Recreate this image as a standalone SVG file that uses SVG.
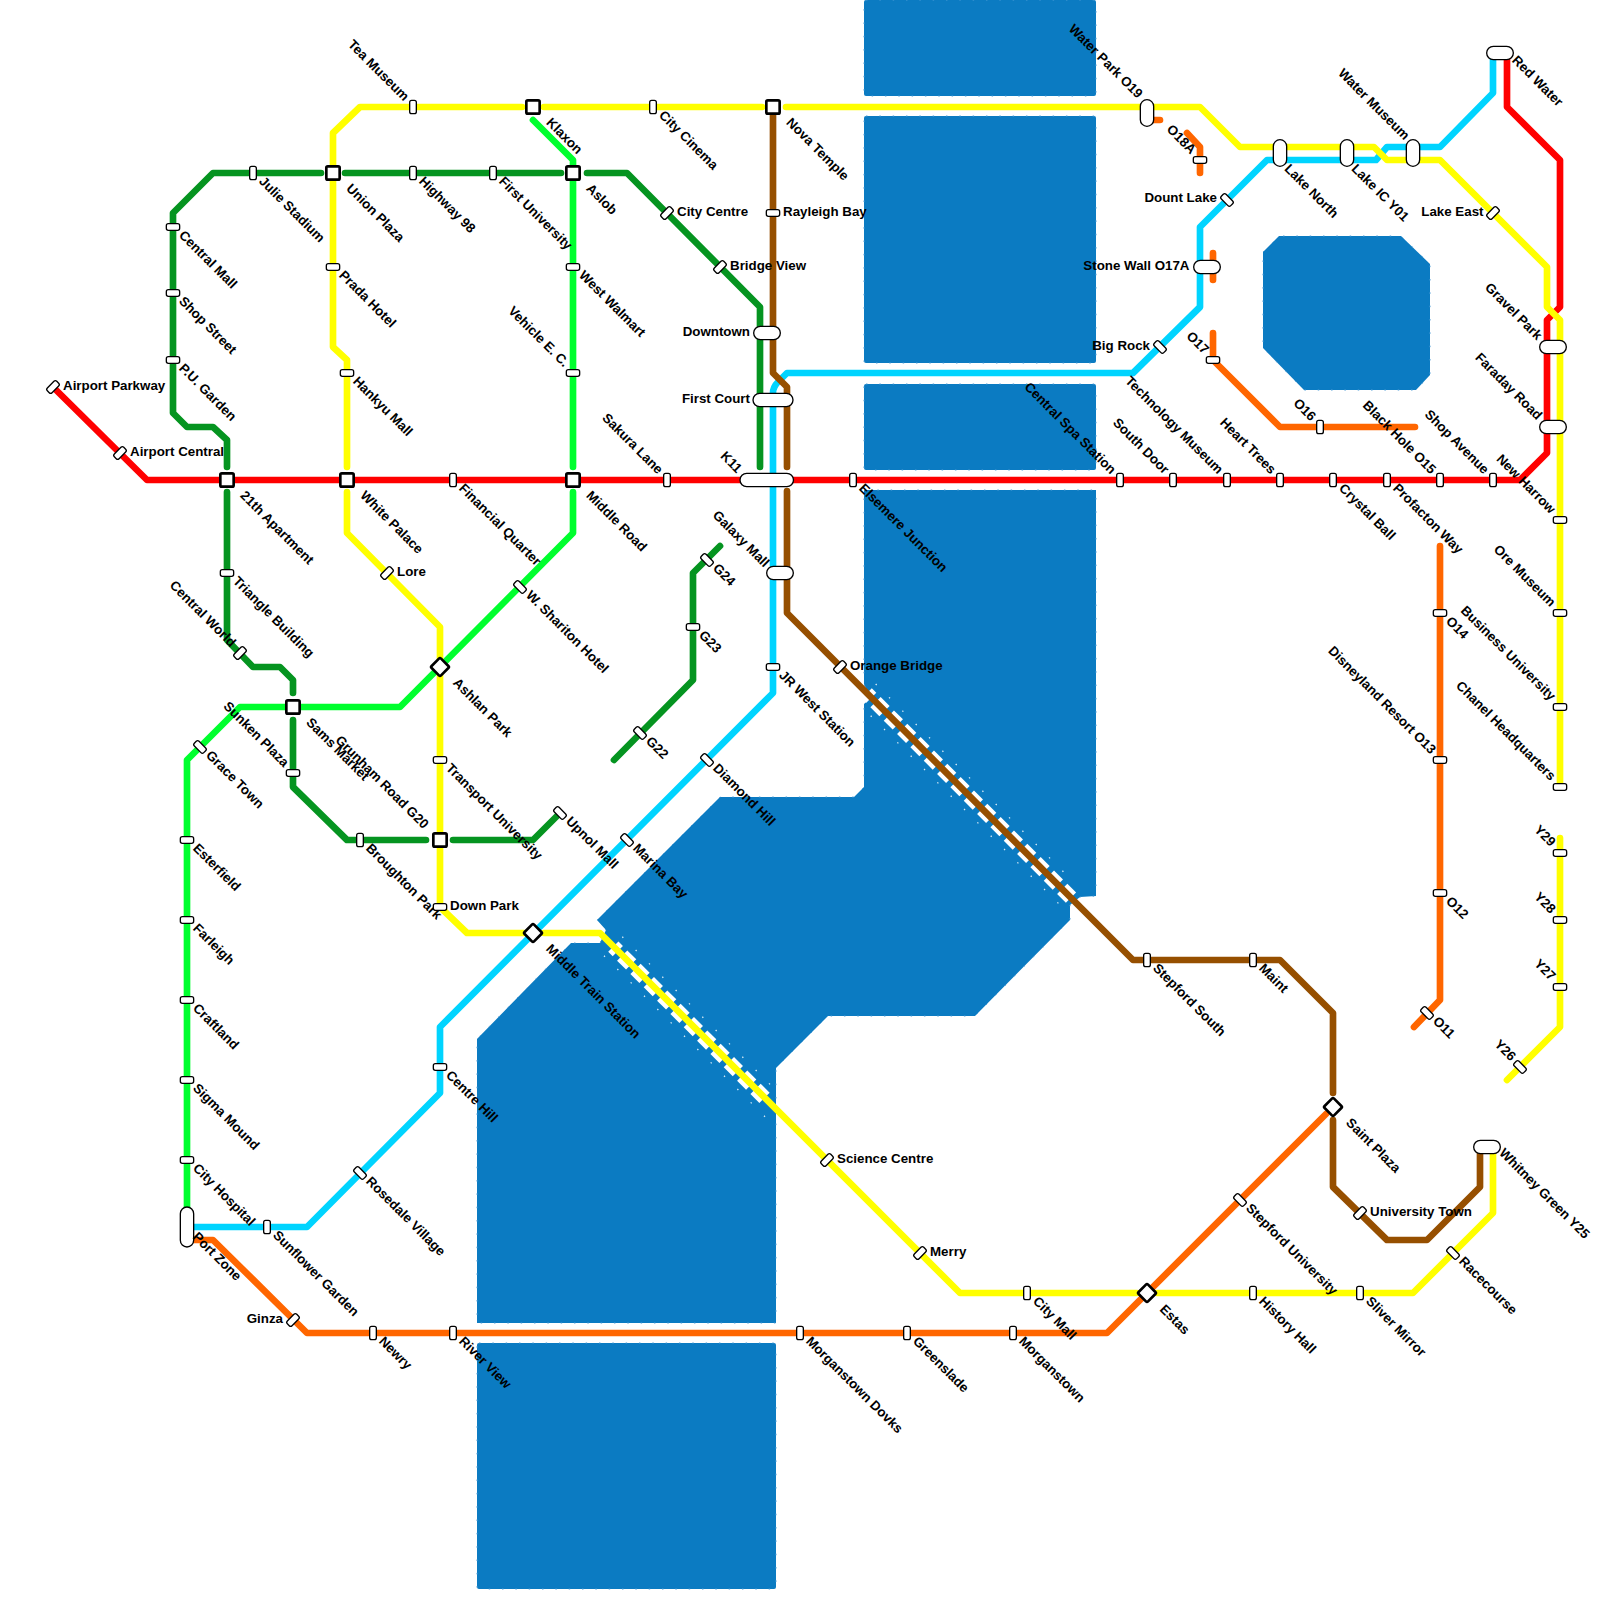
<svg xmlns="http://www.w3.org/2000/svg" width="1600" height="1600" viewBox="0 0 1600 1600">
<style>
text{font-family:"Liberation Sans",Arial,sans-serif;font-size:13.33px;font-weight:bold;fill:#000}
.e{text-anchor:end}
.d{transform:rotate(45deg)}
.st{fill:#fff;stroke:#000;stroke-width:1.33}
.sq{fill:#fff;stroke:#000;stroke-width:2.67}
.w{fill:#0b7bc2;stroke:#4f9dd6;stroke-width:1;stroke-dasharray:1.5 11.83}
.gap{fill:none;stroke:#fff;stroke-width:14.5;stroke-dasharray:12.7 6.16;stroke-dashoffset:6.35}
.dot{fill:none;stroke:#fff;stroke-width:1.3;stroke-dasharray:1.4 17.46;opacity:.85}
#connectors path{fill:none;stroke-width:6.67;stroke-linecap:round;stroke-linejoin:round}
.red{stroke:#ff0000}.yel{stroke:#ffff00}.cya{stroke:#00d4ff}.dgr{stroke:#059420}.bgr{stroke:#00ff2e}.bro{stroke:#964f00}.ora{stroke:#ff6600}
</style>
<defs>
<rect id="sv" class="st" x="-3.33" y="-6.67" width="6.67" height="13.33" rx="2"/>
<rect id="sh" class="st" x="-6.67" y="-3.33" width="13.33" height="6.67" rx="2"/>
<rect id="sb" class="st" x="-3.33" y="-6.67" width="6.67" height="13.33" rx="2" transform="rotate(45)"/>
<rect id="sf" class="st" x="-3.33" y="-6.67" width="6.67" height="13.33" rx="2" transform="rotate(-45)"/>
<rect id="sq" class="sq" x="-6.67" y="-6.67" width="13.33" height="13.33" rx="1.5"/>
<rect id="di" class="sq" x="-6.67" y="-6.67" width="13.33" height="13.33" rx="1.5" transform="rotate(45)"/>
</defs>
<g id="water">
<rect class="w" x="864" y="0" width="232" height="96" rx="2"/>
<rect class="w" x="864" y="116" width="232" height="247" rx="2"/>
<rect class="w" x="864" y="384" width="232" height="86" rx="2"/>
<path class="w" d="M864,490H1096V896L1080,897 1070,905V920L975,1016H828L776,1068V1323H477V1039L571,943H600L606,930 597,920 720,797H854L864,787V704L870,698 864,684Z"/>
<rect class="w" x="477" y="1343" width="299" height="246" rx="2"/>
<path class="w" d="M1263,252L1279,236H1401L1430,264V375L1416,390H1304L1263,348Z"/>
<path class="gap" d="M866.67,693.33L1071,897.67"/>
<path class="gap" d="M613.33,946.67L764.5,1097.8"/>
<path class="dot" d="M875.7,684L1075,883.3"/>
<path class="dot" d="M870.7,715.7L1060,905"/>
<path class="dot" d="M622.3,936.7L776,1090.4"/>
<path class="dot" d="M604,955.7L765,1116.7"/>
</g>
<g id="connectors">
<path class="cya" d="M193,1227H307L440,1093V1027L773,693V393Q773,387 778,382L787,373H1133L1200,307V227L1267,160H1376L1387,147H1440L1493,93V58"/>
<path class="dgr" d="M760,467V307L627,173H587M561,173H345M321,173H213L173,213V413L187,427H213L227,440V467M227,492V640L253,667H280L293,680V693M293,720V787L347,840H426M453,840H533L560,813"/>
<path class="dgr" d="M720,546L693,573V680L614,760"/>
<path class="bgr" d="M533,120L573,160V467M573,492V533L400,707H240L187,760V1215"/>
<path class="red" d="M53,387L147,480H1520L1547,453V320L1560,307V160L1507,107V58"/>
<path class="bro" d="M773,107V373L787,387V467M787,491V613L1133,960H1280L1333,1013V1093M1333,1120V1187L1387,1240H1427L1480,1187V1147"/>
<path class="ora" d="M193,1240H213L307,1333H1107L1326,1114"/>
<path class="ora" d="M1153,120H1160M1187,133L1200,147V173M1213,253V280M1213,333V360L1280,427H1415"/>
<path class="ora" d="M1440,546V1000L1414,1027"/>
<path class="yel" d="M762,107H544M522,107H360L333,133V347L347,360V467M347,492V533L440,627V907L467,933H524M544,933H600L960,1293H1137M1157,1293H1413L1493,1213V1150"/>
<path class="yel" d="M786,107H1200L1240,147H1374L1387,160H1440L1547,267V307L1560,320V787"/>
<path class="yel" d="M1560,838V1027L1507,1080"/>
</g>
<g id="airport-parkway" transform="translate(53,387)"><use href="#sb"/><text x="10" y="3">Airport Parkway</text></g>
<g id="airport-central" transform="translate(120,453)"><use href="#sb"/><text x="10" y="3">Airport Central</text></g>
<g id="t21" transform="translate(227,480)"><use href="#sq"/><text class="d" x="20.4" y="2.6">21th Apartment</text></g>
<g id="white-palace" transform="translate(347,480)"><use href="#sq"/><text class="d" x="20.4" y="2.6">White Palace</text></g>
<g id="financial-quarter" transform="translate(453,480)"><use href="#sv"/><text class="d" x="10" y="2.6">Financial Quarter</text></g>
<g id="middle-road" transform="translate(573,480)"><use href="#sq"/><text class="d" x="20.4" y="2.6">Middle Road</text></g>
<g id="sakura-lane" transform="translate(667,480)"><use href="#sv"/><text class="d e" x="-10.4" y="2.9">Sakura Lane</text></g>
<g id="k11" transform="translate(767,480)"><rect class="st" x="-27" y="-6.67" width="53.5" height="13.33" rx="6.67"/><text class="d e" x="-26" y="17">K11</text></g>
<g id="elsemere-junction" transform="translate(853,480)"><use href="#sv"/><text class="d" x="10" y="2.6">Elsemere Junction</text></g>
<g id="central-spa" transform="translate(1120,480)"><use href="#sv"/><text class="d e" x="-10.4" y="2.9">Central Spa Station</text></g>
<g id="south-door" transform="translate(1173,480)"><use href="#sv"/><text class="d e" x="-10.4" y="2.9">South Door</text></g>
<g id="technology-museum" transform="translate(1227,480)"><use href="#sv"/><text class="d e" x="-10.4" y="2.9">Technology Museum</text></g>
<g id="heart-trees" transform="translate(1280,480)"><use href="#sv"/><text class="d e" x="-10.4" y="2.9">Heart Trees</text></g>
<g id="crystal-ball" transform="translate(1333,480)"><use href="#sv"/><text class="d" x="10" y="2.6">Crystal Ball</text></g>
<g id="profacton-way" transform="translate(1387,480)"><use href="#sv"/><text class="d" x="10" y="2.6">Profacton Way</text></g>
<g id="black-hole" transform="translate(1440,480)"><use href="#sv"/><text class="d e" x="-10.4" y="2.9">Black Hole O15</text></g>
<g id="shop-avenue" transform="translate(1493,480)"><use href="#sv"/><text class="d e" x="-10.4" y="2.9">Shop Avenue</text></g>
<g id="red-water" transform="translate(1500,53)"><rect class="st" x="-13.33" y="-6.67" width="26.67" height="13.33" rx="6.67"/><text class="d" x="13.7" y="-2.4">Red Water</text></g>

<g id="julie-stadium" transform="translate(253,173)"><use href="#sv"/><text class="d" x="10" y="2.6">Julie Stadium</text></g>
<g id="union-plaza" transform="translate(333,173)"><use href="#sq"/><text class="d" x="20.4" y="2.6">Union Plaza</text></g>
<g id="highway-98" transform="translate(413,173)"><use href="#sv"/><text class="d" x="10" y="2.6">Highway 98</text></g>
<g id="first-university" transform="translate(493,173)"><use href="#sv"/><text class="d" x="10" y="2.6">First University</text></g>
<g id="aslob" transform="translate(573,173)"><use href="#sq"/><text class="d" x="20.4" y="2.6">Aslob</text></g>
<g id="city-centre" transform="translate(667,213)"><use href="#sb"/><text x="10" y="3">City Centre</text></g>
<g id="bridge-view" transform="translate(720,267)"><use href="#sb"/><text x="10" y="3">Bridge View</text></g>
<g id="downtown" transform="translate(767,333)"><rect class="st" x="-13.33" y="-6.67" width="26.67" height="13.33" rx="6.67"/><text class="e" x="-17" y="3">Downtown</text></g>
<g id="first-court" transform="translate(773,400)"><rect class="st" x="-20" y="-6.67" width="40" height="13.33" rx="6.67"/><text class="e" x="-23" y="3">First Court</text></g>
<g id="central-mall" transform="translate(173,227)"><use href="#sh"/><text class="d" x="10" y="2.6">Central Mall</text></g>
<g id="shop-street" transform="translate(173,293)"><use href="#sh"/><text class="d" x="10" y="2.6">Shop Street</text></g>
<g id="pu-garden" transform="translate(173,360)"><use href="#sh"/><text class="d" x="10" y="2.6">P.U. Garden</text></g>
<g id="triangle-building" transform="translate(227,573)"><use href="#sh"/><text class="d" x="10" y="2.6">Triangle Building</text></g>
<g id="central-world" transform="translate(240,653)"><use href="#sb"/><text class="d e" x="-10.4" y="2.9">Central World</text></g>
<g id="sams-market" transform="translate(293,707)"><use href="#sq"/><text class="d" x="20.4" y="2.6">Sams Market</text></g>
<g id="sunken-plaza" transform="translate(293,773)"><use href="#sh"/><text class="d e" x="-10.4" y="2.9">Sunken Plaza</text></g>
<g id="broughton-park" transform="translate(360,840)"><use href="#sv"/><text class="d" x="10" y="2.6">Broughton Park</text></g>
<g id="grunham-road" transform="translate(440,840)"><use href="#sq"/><text class="d e" x="-19.4" y="4.4">Grunham Road G20</text></g>
<g id="upnol-mall" transform="translate(560,813)"><use href="#sf"/><text class="d" x="10" y="2.6">Upnol Mall</text></g>
<g id="g24" transform="translate(707,560)"><use href="#sf"/><text class="d" x="10" y="2.6">G24</text></g>
<g id="g23" transform="translate(693,627)"><use href="#sh"/><text class="d" x="10" y="2.6">G23</text></g>
<g id="g22" transform="translate(640,733)"><use href="#sf"/><text class="d" x="10" y="2.6">G22</text></g>

<g id="klaxon" transform="translate(533,107)"><use href="#sq"/><text class="d" x="20.4" y="2.6">Klaxon</text></g>
<g id="west-walmart" transform="translate(573,267)"><use href="#sh"/><text class="d" x="10" y="2.6">West Walmart</text></g>
<g id="vehicle-ec" transform="translate(573,373)"><use href="#sh"/><text class="d e" x="-10.4" y="2.9">Vehicle E. C.</text></g>
<g id="w-shariton" transform="translate(520,587)"><use href="#sf"/><text class="d" x="10" y="2.6">W. Shariton Hotel</text></g>
<g id="ashlan-park" transform="translate(440,667)"><use href="#di"/><text class="d" x="20.5" y="3">Ashlan Park</text></g>
<g id="grace-town" transform="translate(200,747)"><use href="#sf"/><text class="d" x="10" y="2.6">Grace Town</text></g>
<g id="esterfield" transform="translate(187,840)"><use href="#sh"/><text class="d" x="10" y="2.6">Esterfield</text></g>
<g id="farleigh" transform="translate(187,920)"><use href="#sh"/><text class="d" x="10" y="2.6">Farleigh</text></g>
<g id="craftland" transform="translate(187,1000)"><use href="#sh"/><text class="d" x="10" y="2.6">Craftland</text></g>
<g id="sigma-mound" transform="translate(187,1080)"><use href="#sh"/><text class="d" x="10" y="2.6">Sigma Mound</text></g>
<g id="city-hospital" transform="translate(187,1160)"><use href="#sh"/><text class="d" x="10" y="2.6">City Hospital</text></g>
<g id="port-zone" transform="translate(187,1227)"><rect class="st" x="-6.67" y="-20" width="13.33" height="40" rx="6.67"/><text class="d" x="11" y="4">Port Zone</text></g>

<g id="sunflower-garden" transform="translate(267,1227)"><use href="#sv"/><text class="d" x="10" y="2.6">Sunflower Garden</text></g>
<g id="rosedale-village" transform="translate(360,1173)"><use href="#sf"/><text class="d" x="10" y="2.6">Rosedale Village</text></g>
<g id="centre-hill" transform="translate(440,1067)"><use href="#sh"/><text class="d" x="10" y="2.6">Centre Hill</text></g>
<g id="middle-train" transform="translate(533,933)"><use href="#di"/><text class="d" x="20.5" y="3">Middle Train Station</text></g>
<g id="marina-bay" transform="translate(627,840)"><use href="#sf"/><text class="d" x="10" y="2.6">Marina Bay</text></g>
<g id="diamond-hill" transform="translate(707,760)"><use href="#sf"/><text class="d" x="10" y="2.6">Diamond Hill</text></g>
<g id="jr-west" transform="translate(773,667)"><use href="#sh"/><text class="d" x="10" y="2.6">JR West Station</text></g>
<g id="galaxy-mall" transform="translate(780,573)"><rect class="st" x="-13.33" y="-6.67" width="26.67" height="13.33" rx="6.67"/><text class="d e" x="-15" y="7.8">Galaxy Mall</text></g>
<g id="big-rock" transform="translate(1160,347)"><use href="#sf"/><text class="e" x="-10" y="3">Big Rock</text></g>
<g id="stone-wall" transform="translate(1207,267)"><rect class="st" x="-13.33" y="-6.67" width="26.67" height="13.33" rx="6.67"/><text class="e" x="-17.5" y="3">Stone Wall O17A</text></g>
<g id="dount-lake" transform="translate(1227,200)"><use href="#sf"/><text class="e" x="-10" y="2">Dount Lake</text></g>
<g id="lake-north" transform="translate(1280,153)"><rect class="st" x="-6.67" y="-13.33" width="13.33" height="26.67" rx="6.67"/><text class="d" x="14.4" y="9">Lake North</text></g>
<g id="lake-ic" transform="translate(1347,153)"><rect class="st" x="-6.67" y="-13.33" width="13.33" height="26.67" rx="6.67"/><text class="d" x="14.4" y="9">Lake IC Y01</text></g>
<g id="water-museum" transform="translate(1413,153)"><rect class="st" x="-6.67" y="-13.33" width="13.33" height="26.67" rx="6.67"/><text class="d e" x="-15" y="-2.4">Water Museum</text></g>

<g id="tea-museum" transform="translate(413,107)"><use href="#sv"/><text class="d e" x="-10.4" y="2.9">Tea Museum</text></g>
<g id="city-cinema" transform="translate(653,107)"><use href="#sv"/><text class="d" x="10" y="2.6">City Cinema</text></g>
<g id="nova-temple" transform="translate(773,107)"><use href="#sq"/><text class="d" x="20.4" y="2.6">Nova Temple</text></g>
<g id="water-park" transform="translate(1147,113)"><rect class="st" x="-6.67" y="-13.33" width="13.33" height="26.67" rx="6.67"/><text class="d e" x="-16.8" y="-3">Water Park O19</text></g>
<g id="prada-hotel" transform="translate(333,267)"><use href="#sh"/><text class="d" x="10" y="2.6">Prada Hotel</text></g>
<g id="hankyu-mall" transform="translate(347,373)"><use href="#sh"/><text class="d" x="10" y="2.6">Hankyu Mall</text></g>
<g id="lore" transform="translate(387,573)"><use href="#sb"/><text x="10" y="3">Lore</text></g>
<g id="transport-university" transform="translate(440,760)"><use href="#sh"/><text class="d" x="10" y="2.6">Transport University</text></g>
<g id="down-park" transform="translate(440,907)"><use href="#sh"/><text x="10" y="3">Down Park</text></g>
<g id="science-centre" transform="translate(827,1160)"><use href="#sb"/><text x="10" y="3">Science Centre</text></g>
<g id="merry" transform="translate(920,1253)"><use href="#sb"/><text x="10" y="3">Merry</text></g>
<g id="city-mall" transform="translate(1027,1293)"><use href="#sv"/><text class="d" x="10" y="2.6">City Mall</text></g>
<g id="estas" transform="translate(1147,1293)"><use href="#di"/><text class="d" x="20.5" y="3.5">Estas</text></g>
<g id="history-hall" transform="translate(1253,1293)"><use href="#sv"/><text class="d" x="10" y="2.6">History Hall</text></g>
<g id="sliver-mirror" transform="translate(1360,1293)"><use href="#sv"/><text class="d" x="10" y="2.6">Sliver Mirror</text></g>
<g id="racecourse" transform="translate(1453,1253)"><use href="#sf"/><text class="d" x="10" y="2.6">Racecourse</text></g>
<g id="whitney-green" transform="translate(1487,1147)"><rect class="st" x="-13.33" y="-6.67" width="26.67" height="13.33" rx="6.67"/><text class="d" x="13" y="-3.4">Whitney Green Y25</text></g>

<g id="lake-east" transform="translate(1493,213)"><use href="#sb"/><text class="e" x="-9.5" y="3">Lake East</text></g>
<g id="gravel-park" transform="translate(1553,347)"><rect class="st" x="-13.33" y="-6.67" width="26.67" height="13.33" rx="6.67"/><text class="d e" x="-16" y="7">Gravel Park</text></g>
<g id="faraday-road" transform="translate(1553,427)"><rect class="st" x="-13.33" y="-6.67" width="26.67" height="13.33" rx="6.67"/><text class="d e" x="-16" y="7">Faraday Road</text></g>
<g id="new-harrow" transform="translate(1560,520)"><use href="#sh"/><text class="d e" x="-11" y="2.9">New Harrow</text></g>
<g id="ore-museum" transform="translate(1560,613)"><use href="#sh"/><text class="d e" x="-11" y="2.9">Ore Museum</text></g>
<g id="business-university" transform="translate(1560,707)"><use href="#sh"/><text class="d e" x="-11" y="2.9">Business University</text></g>
<g id="chanel" transform="translate(1560,787)"><use href="#sh"/><text class="d e" x="-11" y="2.9">Chanel Headquarters</text></g>
<g id="y29" transform="translate(1560,853)"><use href="#sh"/><text class="d e" x="-11" y="2.9">Y29</text></g>
<g id="y28" transform="translate(1560,920)"><use href="#sh"/><text class="d e" x="-11" y="2.9">Y28</text></g>
<g id="y27" transform="translate(1560,987)"><use href="#sh"/><text class="d e" x="-11" y="2.9">Y27</text></g>
<g id="y26" transform="translate(1520,1067)"><use href="#sf"/><text class="d e" x="-10.4" y="2.9">Y26</text></g>

<g id="rayleigh-bay" transform="translate(773,213)"><use href="#sh"/><text x="10" y="3">Rayleigh Bay</text></g>
<g id="orange-bridge" transform="translate(840,667)"><use href="#sb"/><text x="10" y="3">Orange Bridge</text></g>
<g id="stepford-south" transform="translate(1147,960)"><use href="#sv"/><text class="d" x="10" y="2.6">Stepford South</text></g>
<g id="maint" transform="translate(1253,960)"><use href="#sv"/><text class="d" x="10" y="2.6">Maint</text></g>
<g id="saint-plaza" transform="translate(1333,1107)"><use href="#di"/><text class="d" x="20.5" y="3">Saint Plaza</text></g>
<g id="university-town" transform="translate(1360,1213)"><use href="#sb"/><text x="10" y="3">University Town</text></g>

<g id="ginza" transform="translate(293,1320)"><use href="#sb"/><text class="e" x="-10" y="3">Ginza</text></g>
<g id="newry" transform="translate(373,1333)"><use href="#sv"/><text class="d" x="10" y="2.6">Newry</text></g>
<g id="river-view" transform="translate(453,1333)"><use href="#sv"/><text class="d" x="10" y="2.6">River View</text></g>
<g id="morganstown-dovks" transform="translate(800,1333)"><use href="#sv"/><text class="d" x="10" y="2.6">Morganstown Dovks</text></g>
<g id="greenslade" transform="translate(907,1333)"><use href="#sv"/><text class="d" x="10" y="2.6">Greenslade</text></g>
<g id="morganstown" transform="translate(1013,1333)"><use href="#sv"/><text class="d" x="10" y="2.6">Morganstown</text></g>
<g id="stepford-university" transform="translate(1240,1200)"><use href="#sf"/><text class="d" x="10" y="2.6">Stepford University</text></g>
<g id="o18a" transform="translate(1200,160)"><use href="#sh"/><text class="d e" x="-10.4" y="2.9">O18A</text></g>
<g id="o17" transform="translate(1213,360)"><use href="#sh"/><text class="d e" x="-10.4" y="2.9">O17</text></g>
<g id="o16" transform="translate(1320,427)"><use href="#sv"/><text class="d e" x="-10.4" y="2.9">O16</text></g>
<g id="o14" transform="translate(1440,613)"><use href="#sh"/><text class="d" x="10" y="2.6">O14</text></g>
<g id="o13" transform="translate(1440,760)"><use href="#sh"/><text class="d e" x="-10.4" y="2.9">Disneyland Resort O13</text></g>
<g id="o12" transform="translate(1440,893)"><use href="#sh"/><text class="d" x="10" y="2.6">O12</text></g>
<g id="o11" transform="translate(1427,1013)"><use href="#sf"/><text class="d" x="10" y="2.6">O11</text></g>
</svg>
